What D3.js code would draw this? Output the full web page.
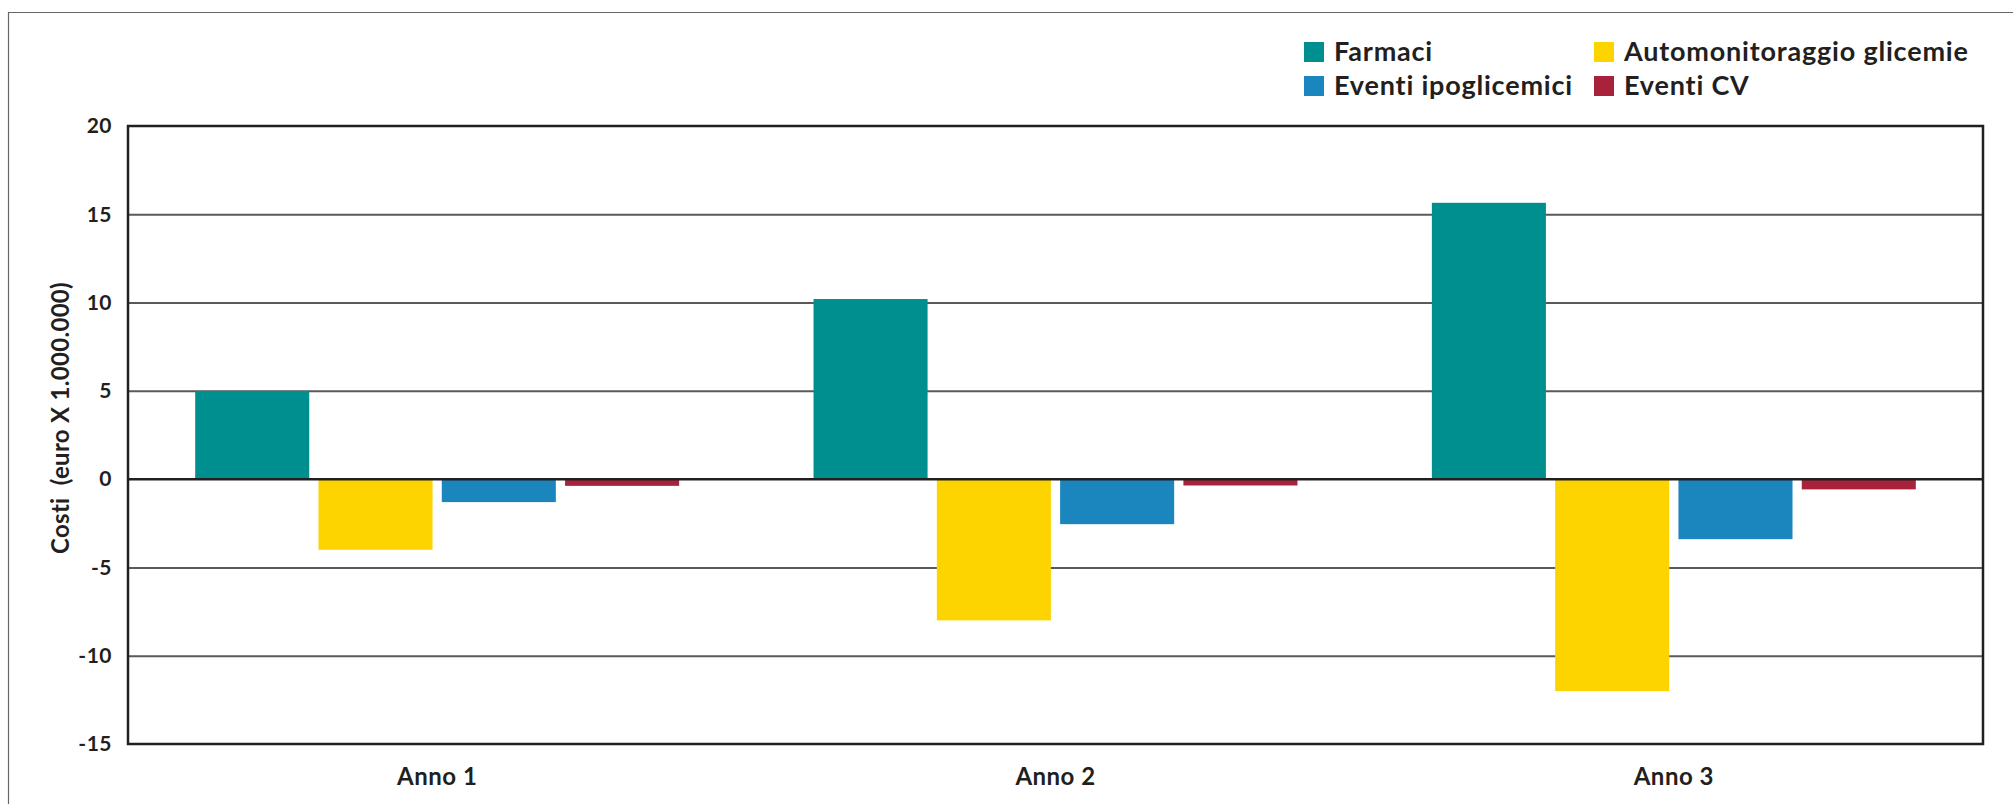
<!DOCTYPE html>
<html>
<head>
<meta charset="utf-8">
<script src="https://cdn.jsdelivr.net/npm/d3@7"></script>
<style>
  html, body { margin: 0; padding: 0; background: #fff; }
  svg { display: block; }
  text { font-family: Lato, "Open Sans", sans-serif; font-weight: 700; fill: #231f20; }
</style>
</head>
<body>
<div id="chart"></div>
<script>
// data
const years = ["Anno 1", "Anno 2", "Anno 3"];
const seriesNames = ["Farmaci", "Automonitoraggio glicemie", "Eventi ipoglicemici", "Eventi CV"];
const seriesColors = ["#008f8f", "#fdd300", "#1b85be", "#a8223b"];
const farmaci = [5.0, 10.2, 15.65];
const automonitoraggio = [-4.0, -8.0, -12.0];
const eventiIpo = [-1.3, -2.55, -3.4];
const eventiCV = [-0.38, -0.36, -0.58];
const yTicks = [20, 15, 10, 5, 0, -5, -10, -15];

const seriesValues = [farmaci, automonitoraggio, eventiIpo, eventiCV];

const W = 2013, H = 804;
const margin = { top: 126, right: 30, bottom: 60, left: 128 };
const width = W - margin.left - margin.right;
const height = H - margin.top - margin.bottom;

const svg = d3.select("#chart").append("svg")
  .attr("width", W)
  .attr("height", H);

// outer frame (only top and left edges visible)
svg.append("path")
  .attr("d", `M8.5,${H} V12.5 H${W}`)
  .attr("fill", "none")
  .attr("stroke", "#666")
  .attr("stroke-width", 1.2);

const g = svg.append("g")
  .attr("transform", `translate(${margin.left},${margin.top})`);

const x0 = d3.scaleBand()
  .domain(years)
  .range([0, width])
  .padding(0);

const x1 = d3.scaleBand()
  .domain(seriesNames)
  .range([0, x0.bandwidth()])
  .paddingInner(0.075)
  .paddingOuter(0.545);

const y = d3.scaleLinear()
  .domain([-15, 20])
  .range([height, 0]);

// gridlines
g.append("g")
  .attr("class", "grid")
  .call(d3.axisLeft(y).tickValues(yTicks.filter(t => t !== 20 && t !== -15 && t !== 0))
    .tickSize(-width).tickFormat(""))
  .call(s => s.select(".domain").remove())
  .call(s => s.selectAll("line").attr("stroke", "#5a5a5a").attr("stroke-width", 2));

// bars
const rows = years.map((yr, i) => ({
  year: yr,
  values: seriesNames.map((name, j) => ({ name, value: seriesValues[j][i], color: seriesColors[j] }))
}));

g.selectAll("g.group")
  .data(rows)
  .join("g")
  .attr("class", "group")
  .attr("transform", d => `translate(${x0(d.year)},0)`)
  .selectAll("rect")
  .data(d => d.values)
  .join("rect")
  .attr("x", d => x1(d.name))
  .attr("width", x1.bandwidth())
  .attr("y", d => y(Math.max(0, d.value)))
  .attr("height", d => Math.abs(y(d.value) - y(0)))
  .attr("fill", d => d.color);

// zero line
g.append("line")
  .attr("x1", 0).attr("x2", width)
  .attr("y1", y(0)).attr("y2", y(0))
  .attr("stroke", "#231f20")
  .attr("stroke-width", 2.5);

// plot border
g.append("rect")
  .attr("x", 0).attr("y", 0)
  .attr("width", width).attr("height", height)
  .attr("fill", "none")
  .attr("stroke", "#231f20")
  .attr("stroke-width", 2.5);

// y axis labels (plain hyphen for negatives, as in the reference)
g.append("g")
  .call(d3.axisLeft(y).tickValues(yTicks).tickSize(0).tickPadding(16).tickFormat(d => String(d)))
  .call(s => s.select(".domain").remove())
  .call(s => s.selectAll("text").style("font-size", "21px").style("letter-spacing", "0.5px"));

// x axis labels
g.append("g")
  .attr("transform", `translate(0,${height})`)
  .call(d3.axisBottom(x0).tickSize(0).tickPadding(24))
  .call(s => s.select(".domain").remove())
  .call(s => s.selectAll("text").style("font-size", "24px").style("letter-spacing", "0.5px"));

// y title
svg.append("text")
  .attr("transform", "translate(69,418) rotate(-90)")
  .attr("text-anchor", "middle")
  .style("font-size", "24px")
  .style("letter-spacing", "0.3px")
  .style("white-space", "pre")
  .text("Costi  (euro X 1.000.000)");

// legend
const legend = svg.append("g").attr("transform", "translate(1304,42)");
const legendItems = legend.selectAll("g")
  .data(seriesNames)
  .join("g")
  .attr("transform", (d, i) => `translate(${i % 2 ? 290 : 0},${i < 2 ? 0 : 34})`);
legendItems.append("rect")
  .attr("width", 20).attr("height", 20)
  .attr("fill", (d, i) => seriesColors[i]);
legendItems.append("text")
  .attr("x", 30).attr("y", 19)
  .style("font-size", "27px")
  .style("letter-spacing", "0.8px")
  .text(d => d);
</script>
</body>
</html>
